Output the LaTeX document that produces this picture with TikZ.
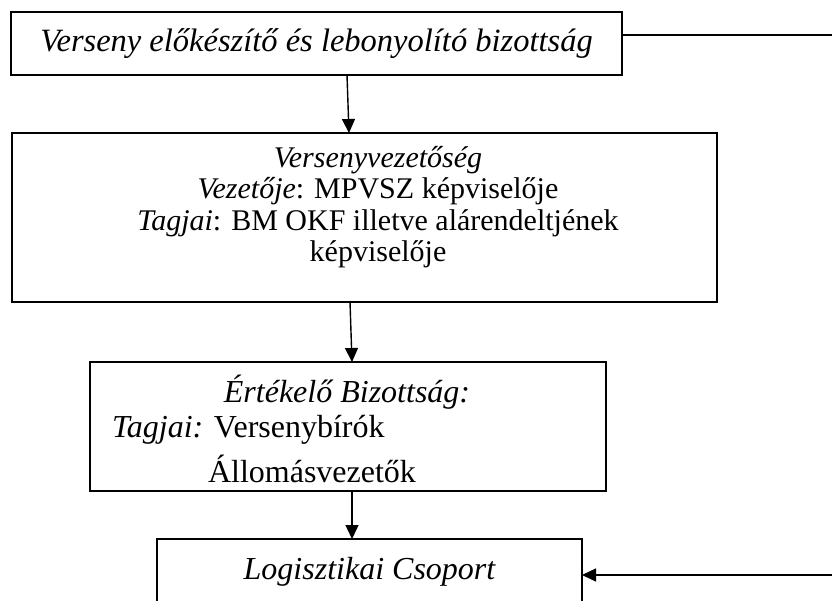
\documentclass[tikz,border=0pt]{standalone}
\usepackage{fontspec}
\setmainfont{Liberation Serif}
\usetikzlibrary{arrows.meta}

\colorlet{chart line color}{black}
\tikzset{
    x={1pt},
    y={-1pt},
    chart box/.style={
        draw={chart line color},
        line width={1.6pt},
        rectangle,
        inner sep=0pt,
        outer sep=0pt,
        minimum width={#1},
    },
    chart text/.style={
        inner sep=0pt,
        outer sep=0pt,
        font={\fontsize{#1}{#1}\selectfont},
    },
    link/.style={
        draw={chart line color},
        line width={1.4pt},
    },
    arrow link/.style={
        link,
        -{Triangle[length=14pt,width=13pt]},
    },
}

\begin{document}
\begin{tikzpicture}
% frame
\fill[white] (0,0) rectangle (832,601);
\clip (0,0) rectangle (832,601);
% boxes
\node[chart box={611}, minimum height={63}, font={\fontsize{32.5}{36}\selectfont\itshape}] (top) at (316.5,43.5) {Verseny előkészítő és lebonyolító bizottság};
\node[chart box={705}, minimum height={169}] (lead) at (364.5,217.5) {};
\node[chart box={516}, minimum height={129}] (jury) at (348,426.5) {};
\node[chart box={425}, minimum height={66}, font={\fontsize{32}{36}\selectfont\itshape}] (logistics) at (369.5,572) {Logisztikai Csoport};
% texts
\node[chart text={30}, align=center] (leadtext) at (378,207) {\textit{Versenyvezetőség}\\[1.5pt] \textit{Vezetője}: MPVSZ képviselője\\[1.5pt] \textit{Tagjai}: BM OKF illetve alárendeltjének\\[1.5pt] képviselője};
\node[chart text={32}] (jurytitle) at (347,392) {\textit{Értékelő Bizottság:}};
\node[chart text={32}, anchor=west] (jurymembers) at (112,430) {\textit{Tagjai:} Versenybírók};
\node[chart text={32}, anchor=west] (jurystations) at (208,469) {Állomásvezetők};
% connectors
\coordinate (topend) at (832,35);
\coordinate (logend) at (832,575);
\path[link] (top.east |- topend) -- (topend);
\path[arrow link] ([xshift=30.5]top.south) -- ([xshift=-15.5]lead.north);
\path[arrow link] ([xshift=-14.5]lead.south) -- ([xshift=4]jury.north);
\path[arrow link] ([xshift=4]jury.south) -- ([xshift=-17.5]logistics.north);
\path[arrow link] (logend) -- (logistics.east |- logend);
\end{tikzpicture}
\end{document}
